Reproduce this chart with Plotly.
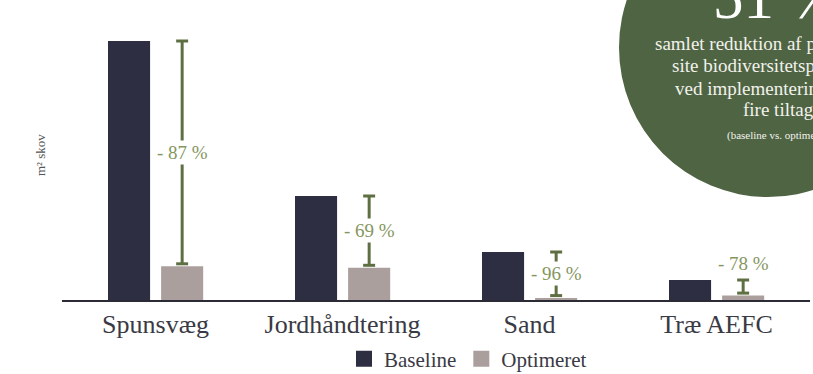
import plotly.graph_objects as go

# Data: forest area (m² skov) per measure, baseline vs optimised
categories = ["Spunsvæg", "Jordhåndtering", "Sand", "Træ AEFC"]
baseline = [2590, 1040, 480, 200]
optimeret = [337, 322, 19, 44]

C_BASE = "#2d2e42"
C_OPT = "#ab9f9e"
C_GREEN = "#5e6f42"
C_GREEN_TXT = "#86965f"
C_CIRCLE = "#4f6443"
C_TEXT = "#3a3a44"
FONT = "Liberation Serif"

BAR_W = 0.225
OFF_BASE = -0.254
OFF_OPT = 0.03

fig = go.Figure()
fig.add_trace(go.Bar(x=categories, y=baseline, width=BAR_W, offset=OFF_BASE,
                     marker=dict(color=C_BASE, line=dict(width=0)), showlegend=False))
fig.add_trace(go.Bar(x=categories, y=optimeret, width=BAR_W, offset=OFF_OPT,
                     marker=dict(color=C_OPT, line=dict(width=0)), showlegend=False))

# legend entries with larger square swatches
for name, col in [("Baseline", C_BASE), ("Optimeret", C_OPT)]:
    fig.add_trace(go.Scatter(x=[None], y=[None], mode="markers", name=name,
                             marker=dict(symbol="square", size=16, color=col)))

shapes = []
annotations = []
cap = 0.032
for i, (b, o) in enumerate(zip(baseline, optimeret)):
    xc = i + OFF_OPT + BAR_W / 2
    top, bot = b, o + 25
    pct = round((1 - o / b) * 100)
    shapes.append(dict(type="line", xref="x", yref="y", x0=xc, x1=xc, y0=bot, y1=top,
                       line=dict(color=C_GREEN, width=3), layer="below"))
    for yy in (top, bot):
        shapes.append(dict(type="line", xref="x", yref="y", x0=xc - cap, x1=xc + cap,
                           y0=yy, y1=yy, line=dict(color=C_GREEN, width=3)))
    label = f"- {pct} %"
    if b - o > 300:
        annotations.append(dict(x=xc, y=(top + bot) / 2, xref="x", yref="y", text=label,
                                showarrow=False, bgcolor="white", borderpad=1,
                                font=dict(family=FONT, size=19, color=C_GREEN_TXT)))
    else:
        annotations.append(dict(x=xc, y=top, xref="x", yref="y", text=label,
                                showarrow=False, yanchor="bottom", yshift=4,
                                font=dict(family=FONT, size=19, color=C_GREEN_TXT)))

# plot area spans x 62..810 px, y 20..300 px
def px(x):
    return (x - 62) / 748

def py(y):
    return (300 - y) / 280

shapes.append(dict(type="circle", xref="paper", yref="paper",
                   x0=px(619), x1=px(917), y0=py(197), y1=py(-102),
                   fillcolor=C_CIRCLE, line=dict(width=0), layer="above"))

annotations.append(dict(x=px(711), y=py(18), xref="paper", yref="paper", text="51 %",
                        showarrow=False, xanchor="left", yanchor="bottom", yshift=-15,
                        font=dict(family=FONT, size=61, color="white")))
circle_lines = [
    ("samlet reduktion af projektets off-", 653, 43, 19),
    ("site biodiversitetspåvirkning", 670, 65, 19),
    ("ved implementering af de", 673, 88, 19),
    ("fire tiltag", 741, 110, 19),
    ("(baseline vs. optimeret)", 725, 135, 11),
]
for txt, x0, yc, fs in circle_lines:
    annotations.append(dict(x=px(x0), y=py(yc), xref="paper", yref="paper", text=txt,
                            showarrow=False, xanchor="left", yanchor="middle",
                            font=dict(family=FONT, size=fs, color="#f2f2ec")))

annotations.append(dict(x=px(40), y=py(155), xref="paper", yref="paper", text="m² skov",
                        textangle=-90, showarrow=False, xanchor="center", yanchor="middle",
                        font=dict(family=FONT, size=13, color="#555555")))

fig.update_layout(
    width=813, height=374,
    margin=dict(l=62, r=3, t=20, b=74, autoexpand=False),
    paper_bgcolor="white", plot_bgcolor="white",
    barmode="overlay",
    shapes=shapes, annotations=annotations,
    font=dict(family=FONT, color=C_TEXT),
    legend=dict(orientation="h", x=px(468), y=py(359), xanchor="center", yanchor="middle",
                font=dict(family=FONT, size=21, color=C_TEXT), itemsizing="trace",
                itemwidth=30, bgcolor="rgba(0,0,0,0)"),
    xaxis=dict(showgrid=False, showline=True, linecolor="#2b2b35", linewidth=1.5,
               ticks="", tickfont=dict(family=FONT, size=26, color=C_TEXT),
               range=[-0.5, 3.5], fixedrange=True, automargin=False),
    yaxis=dict(showgrid=False, showline=False, showticklabels=False, zeroline=False,
               range=[0, 2800], fixedrange=True, automargin=False),
)

fig.write_html("out.html")
